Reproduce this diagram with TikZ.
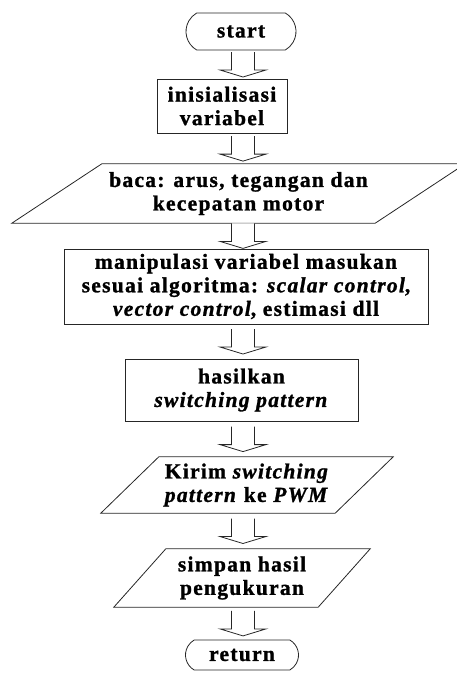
\documentclass[tikz,border=0pt]{standalone}
\usepackage{fontspec}
\setmainfont{Liberation Serif}[LetterSpace=6, BoldFeatures={FakeBold=1.2}, BoldItalicFeatures={FakeBold=1.2}]
\usetikzlibrary{shapes.misc,calc}
\newcommand\fsz{\fontsize{21.5}{23.5}\selectfont\bfseries}
\tikzset{
  line/.style={draw=black!85, line width=0.8pt},
  proc/.style={line, rectangle, inner sep=0pt, align=center, font=\fsz},
  term/.style={line, rounded rectangle, rounded rectangle arc length=120, inner sep=0pt, align=center, font=\fsz},
  io/.style={rectangle, inner sep=0pt, align=center, font=\fsz},
  barrow/.style={line, fill=white, line join=miter},
}
\newcommand\paraoutline[2]{\draw[line] ([xshift=-#2pt]#1.south west) -- (#1.north west) -- ([xshift=#2pt]#1.north east) -- (#1.south east) -- cycle;}
\newcommand\barrow[2]{\draw[barrow] let \p1=(#1.south), \p2=(#2.north), \n1={(\y1+\y2)/2} in
  (231.5,{\n1+12.5}) -- (231.5,{\n1-5.5}) -- (220,{\n1-5.5}) -- (243,{\n1-12.5}) -- (266,{\n1-5.5}) -- (254.5,{\n1-5.5}) -- (254.5,{\n1+12.5});}
\begin{document}
\begin{tikzpicture}[x=1pt,y=1pt]
\useasboundingbox (0,0) rectangle (457,-673);
\node[term, minimum width=110pt, minimum height=37pt] (start) at (241,-31.5) {start};
\node[proc, minimum width=130pt, minimum height=54pt] (init) at (222,-106) {inisialisasi\\variabel};
\node[io, minimum width=273pt, minimum height=59pt] (baca) at (238.5,-193.5) {baca: arus, tegangan dan\\kecepatan motor};
\paraoutline{baca}{90}
\node[proc, minimum width=364pt, minimum height=75pt] (manip) at (246,-286.5) {manipulasi variabel masukan\\sesuai algoritma: \textit{scalar control},\\\textit{vector control}, estimasi dll};
\node[proc, minimum width=233pt, minimum height=62pt] (hasil) at (241.5,-390) {hasilkan\\\textit{switching pattern}};
\node[io, minimum width=176pt, minimum height=56pt] (kirim) at (247,-485) {Kirim \textit{switching}\\\textit{pattern} ke \textit{PWM}};
\paraoutline{kirim}{58}
\node[io, minimum width=152pt, minimum height=58pt] (simpan) at (242,-578) {simpan hasil\\pengukuran};
\paraoutline{simpan}{52}
\node[term, minimum width=113pt, minimum height=30pt] (ret) at (242,-655) {return};
\barrow{start}{init}
\barrow{init}{baca}
\barrow{baca}{manip}
\barrow{manip}{hasil}
\barrow{hasil}{kirim}
\barrow{kirim}{simpan}
\barrow{simpan}{ret}
\end{tikzpicture}
\end{document}
